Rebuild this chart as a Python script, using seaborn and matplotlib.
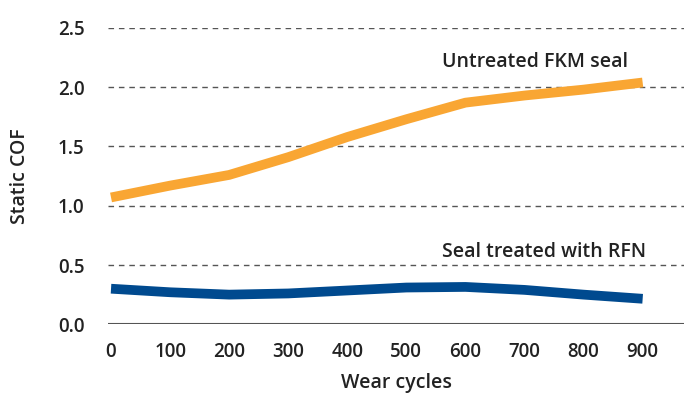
import matplotlib as mpl
from matplotlib import pyplot as plt
import numpy as np
import pandas as pd
import seaborn as sb

sb.set_style("white")
mpl.rcParams["font.family"] = ["Open Sans", "DejaVu Sans"]

cycles = [0, 100, 200, 300, 400, 500, 600, 700, 800, 900]
untreated = [1.07, 1.17, 1.26, 1.41, 1.58, 1.73, 1.87, 1.93, 1.98, 2.04]
treated = [0.30, 0.27, 0.25, 0.26, 0.285, 0.31, 0.315, 0.29, 0.25, 0.215]
yticks = [0.0, 0.5, 1.0, 1.5, 2.0, 2.5]

df = pd.DataFrame({"cycles": cycles, "untreated": untreated, "treated": treated})

fig = plt.figure(figsize=(6.84, 3.94), dpi=100)
ax1 = fig.add_axes([0.158, 0.177, 0.842, 0.752])

for y in yticks[1:]:
    ax1.axhline(y, color="#555555", lw=1, ls=(0, (4, 3.5)), zorder=1)
ax1.axhline(0, color="#555555", lw=1.5, zorder=1)

sb.lineplot(data=df, x="cycles", y="untreated", color="#F9A633", lw=7,
            solid_capstyle="butt", ax=ax1, zorder=3)
sb.lineplot(data=df, x="cycles", y="treated", color="#004A8F", lw=7,
            solid_capstyle="butt", ax=ax1, zorder=3)

ax1.set_xlim(-5, 970)
ax1.set_ylim(0, 2.5)
ax1.set_xticks(cycles)
ax1.set_yticks(yticks)
ax1.set_yticklabels(["%.1f" % v for v in yticks])
for s in ax1.spines.values():
    s.set_visible(False)
ax1.tick_params(length=0, labelsize=13.5, colors="#222222", pad=13)
ax1.tick_params(axis="y", pad=17)
for t in ax1.get_xticklabels() + ax1.get_yticklabels():
    t.set_fontweight("semibold")

ax1.text(718, 2.21, "Untreated FKM seal", ha="center", va="center",
         fontsize=14, fontweight="semibold", color="#222222")
ax1.text(733, 0.61, "Seal treated with RFN", ha="center", va="center",
         fontsize=14, fontweight="semibold", color="#222222")

ax1.set_xlabel("Wear cycles", fontsize=14, fontweight="semibold", color="#222222", labelpad=8)
ax1.set_ylabel("Static COF", fontsize=14, fontweight="semibold", color="#222222", labelpad=20)

fig.savefig("out.png", dpi=100)
